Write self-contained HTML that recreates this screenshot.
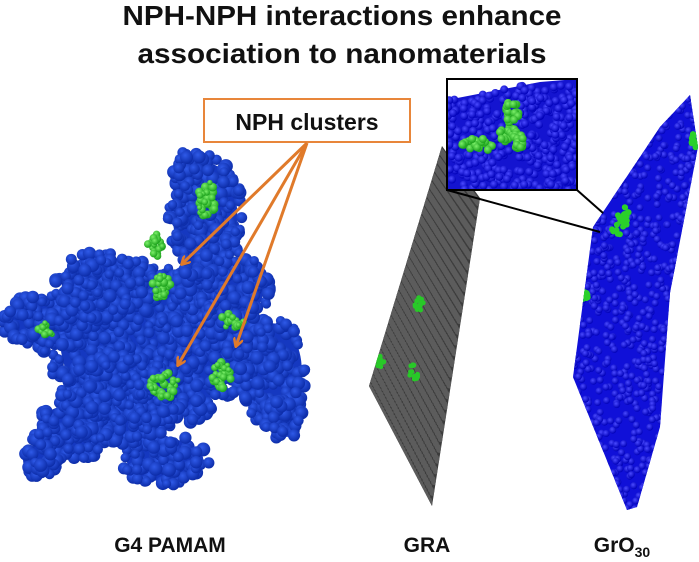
<!DOCTYPE html>
<html><head><style>
html,body{margin:0;padding:0;background:#fff;}
svg{display:block;}
text{font-family:"Liberation Sans",Arial,sans-serif;font-weight:bold;fill:#111;}
</style></head><body>
<svg id="s" width="699" height="562" viewBox="0 0 699 562" xmlns="http://www.w3.org/2000/svg">
<defs>
<marker id="ah" markerWidth="10" markerHeight="10" refX="8" refY="5" orient="auto" markerUnits="userSpaceOnUse">
<path d="M0,0 L9,5 L0,10" fill="none" stroke="#e07a2a" stroke-width="2.5"/>
</marker>
<radialGradient id="bg1" cx="40%" cy="35%" r="65%"><stop offset="0" stop-color="#2f5ae8"/><stop offset="1" stop-color="#0c2ca8"/></radialGradient>
<radialGradient id="gg" cx="40%" cy="35%" r="65%"><stop offset="0" stop-color="#7cf06a"/><stop offset="1" stop-color="#1aa01a"/></radialGradient>
<radialGradient id="bb" cx="40%" cy="35%" r="65%"><stop offset="0" stop-color="#4a4aff"/><stop offset="1" stop-color="#0000b8"/></radialGradient>
<clipPath id="grac"><polygon points="442,146 480,198 432,506 369,386"/></clipPath>
<clipPath id="groc"><polygon points="690,95 698,147 670,293 660,427 637,507 627,510 573,377 593,227 660,127"/></clipPath>
<clipPath id="insc"><rect x="447" y="79" width="130" height="111"/></clipPath>
</defs>
<text x="342" y="25" font-size="28" text-anchor="middle" textLength="439" lengthAdjust="spacingAndGlyphs">NPH-NPH interactions enhance</text>
<text x="342" y="63" font-size="28" text-anchor="middle" textLength="409" lengthAdjust="spacingAndGlyphs">association to nanomaterials</text>

<g id="blobbase" fill="#1538c0"></g>
<g id="blob"></g>

<polygon points="442,146 480,198 432,506 369,386" fill="#3c3c3c"/>
<g id="gra" clip-path="url(#grac)"></g>
<polygon points="690,95 698,147 670,293 660,427 637,507 627,510 573,377 593,227 660,127" fill="#1010d8"/>
<g id="gro" clip-path="url(#groc)"></g>
<rect x="447" y="79" width="130" height="111" fill="#fff"/>
<g clip-path="url(#insc)">
<polygon points="447,100 540,82 577,79 577,190 447,190" fill="#1414d0"/>
<g id="ins"></g>
</g>
<rect x="447" y="79" width="130" height="111" fill="none" stroke="#000" stroke-width="2"/>
<line x1="447" y1="190" x2="600" y2="232" stroke="#000" stroke-width="2"/>
<line x1="577" y1="190" x2="603" y2="213" stroke="#000" stroke-width="2"/>

<rect x="204" y="99" width="206" height="43" fill="#fff" stroke="#e8863a" stroke-width="2"/>
<text x="307" y="130" font-size="23" text-anchor="middle">NPH clusters</text>
<g stroke="#e07a2a" stroke-width="3" fill="none">
<line x1="307" y1="143" x2="182" y2="264" marker-end="url(#ah)"/>
<line x1="307" y1="143" x2="178" y2="365" marker-end="url(#ah)"/>
<line x1="307" y1="143" x2="236" y2="346" marker-end="url(#ah)"/>
</g>

<text x="170" y="552" font-size="21" text-anchor="middle">G4 PAMAM</text>
<text x="427" y="552" font-size="21" text-anchor="middle">GRA</text>
<text x="622" y="552" font-size="21" text-anchor="middle">GrO<tspan font-size="14" dy="5">30</tspan></text>
</svg>
<script>
var NS="http://www.w3.org/2000/svg";
var seed=7;function rnd(){seed=(seed*16807)%2147483647;return seed/2147483647;}
function c(g,x,y,r,f){var e=document.createElementNS(NS,"circle");e.setAttribute("cx",x.toFixed(1));e.setAttribute("cy",y.toFixed(1));e.setAttribute("r",r);if(f)e.setAttribute("fill",f);g.appendChild(e);}
function el(g,E){var e=document.createElementNS(NS,"ellipse");e.setAttribute("cx",E[0]);e.setAttribute("cy",E[1]);e.setAttribute("rx",E[2]*0.85);e.setAttribute("ry",E[3]*0.85);g.appendChild(e);}
var blob=document.getElementById("blob"),base=document.getElementById("blobbase");
var ells=[[150,345,105,85],[205,215,38,62],[50,322,48,30],[75,430,45,30],[165,460,45,25],[272,370,35,55],[225,290,45,40],[100,285,45,35],[120,400,60,45],[40,460,20,18],[285,420,20,20],[190,170,18,20]];
ells.forEach(function(E){el(base,E);});
ells.forEach(function(E){var n=Math.round(E[2]*E[3]/12);for(var i=0;i<n;i++){var a=rnd()*6.283,rr=Math.sqrt(rnd());c(blob,E[0]+Math.cos(a)*rr*E[2],E[1]+Math.sin(a)*rr*E[3],4.5+rnd()*2.5,"url(#bg1)");}});
var gb=[[207,200,9,20],[155,245,8,12],[162,288,10,13],[45,330,9,8],[227,320,6,7],[165,385,15,13],[222,375,11,13],[237,322,7,6]];
gb.forEach(function(E){var n=Math.round(E[2]*E[3]/5);for(var i=0;i<n;i++){var a=rnd()*6.283,rr=Math.sqrt(rnd());c(blob,E[0]+Math.cos(a)*rr*E[2],E[1]+Math.sin(a)*rr*E[3],2.5+rnd()*2,"url(#gg)");}});
var gra=document.getElementById("gra");
for(var u=0;u<=1.0001;u+=0.035){for(var v=0;v<=1.0001;v+=0.028){var x=369+u*(442-369)+v*(432-369)+u*v*(480-442-(432-369));var y=386+u*(146-386)+v*(506-386)+u*v*(198-146-(506-386));c(gra,x,y,3,"#5c5c5c");}}
var gr2=[[410,193,4,7],[400,227,4,7],[393,280,4,7],[419,303,5,9],[380,362,4,6],[413,373,5,10]];
gr2.forEach(function(E){for(var i=0;i<14;i++){var a=rnd()*6.283,rr=Math.sqrt(rnd());c(gra,E[0]+Math.cos(a)*rr*E[2],E[1]+Math.sin(a)*rr*E[3],2.5,"#28c828");}});
var gro=document.getElementById("gro");
for(var i=0;i<1100;i++){c(gro,570+rnd()*130,90+rnd()*425,3.5,"url(#bb)");}
[[694,140,4,8],[617,225,10,10],[625,215,4,8],[585,297,3,6]].forEach(function(E){for(var i=0;i<14;i++){var a=rnd()*6.283,rr=Math.sqrt(rnd());c(gro,E[0]+Math.cos(a)*rr*E[2],E[1]+Math.sin(a)*rr*E[3],3,"#2ad02a");}});
var ins=document.getElementById("ins");
for(var i=0;i<400;i++){var x=447+rnd()*130,y=85+rnd()*105;if(y>100-(x-447)*0.2)c(ins,x,y,4,"url(#bb)");}
[[478,145,16,7],[508,133,9,9],[512,112,7,13],[518,140,7,9]].forEach(function(E){for(var i=0;i<22;i++){var a=rnd()*6.283,rr=Math.sqrt(rnd());c(ins,E[0]+Math.cos(a)*rr*E[2],E[1]+Math.sin(a)*rr*E[3],4,"url(#gg)");}});
</script>
</body></html>
